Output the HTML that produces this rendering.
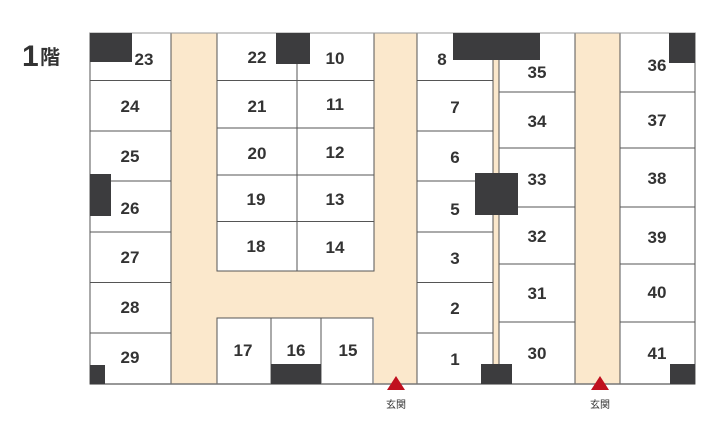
<!DOCTYPE html>
<html><head><meta charset="utf-8"><style>
body{margin:0;background:#fff}
svg text{font-family:"Liberation Sans","Noto Sans CJK JP",sans-serif;font-weight:bold;fill:#333}
</style></head><body>
<svg width="723" height="439" viewBox="0 0 723 439" xmlns="http://www.w3.org/2000/svg">
<rect x="171" y="33" width="46" height="351" fill="#fbe8cc"/>
<rect x="217" y="271" width="157" height="47" fill="#fbe8cc"/>
<rect x="374" y="33" width="44" height="351" fill="#fbe8cc"/>
<rect x="493" y="33" width="6" height="351" fill="#fbe8cc"/>
<rect x="575" y="33" width="45" height="351" fill="#fbe8cc"/>
<g fill="#fff" stroke="#555" stroke-width="1">
<rect x="90" y="33" width="81" height="47.5"/>
<rect x="90" y="80.5" width="81" height="50.5"/>
<rect x="90" y="131" width="81" height="50"/>
<rect x="90" y="181" width="81" height="51"/>
<rect x="90" y="232" width="81" height="50.5"/>
<rect x="90" y="282.5" width="81" height="50.5"/>
<rect x="90" y="333" width="81" height="51"/>
<rect x="217" y="33" width="80" height="47.5"/><rect x="297" y="33" width="77" height="47.5"/>
<rect x="217" y="80.5" width="80" height="47.5"/><rect x="297" y="80.5" width="77" height="47.5"/>
<rect x="217" y="128" width="80" height="47"/><rect x="297" y="128" width="77" height="47"/>
<rect x="217" y="175" width="80" height="46.5"/><rect x="297" y="175" width="77" height="46.5"/>
<rect x="217" y="221.5" width="80" height="49.5"/><rect x="297" y="221.5" width="77" height="49.5"/>
<rect x="217" y="318" width="54" height="66"/><rect x="271" y="318" width="50" height="66"/><rect x="321" y="318" width="52" height="66"/>
<rect x="417" y="33" width="76" height="47.5"/>
<rect x="417" y="80.5" width="76" height="50.5"/>
<rect x="417" y="131" width="76" height="50"/>
<rect x="417" y="181" width="76" height="51"/>
<rect x="417" y="232" width="76" height="50.5"/>
<rect x="417" y="282.5" width="76" height="50.5"/>
<rect x="417" y="333" width="76" height="51"/>
<rect x="499" y="33" width="76" height="59"/>
<rect x="499" y="92" width="76" height="56"/>
<rect x="499" y="148" width="76" height="59"/>
<rect x="499" y="207" width="76" height="57"/>
<rect x="499" y="264" width="76" height="58"/>
<rect x="499" y="322" width="76" height="62"/>
<rect x="620" y="33" width="75" height="59"/>
<rect x="620" y="92" width="75" height="56"/>
<rect x="620" y="148" width="75" height="59"/>
<rect x="620" y="207" width="75" height="57"/>
<rect x="620" y="264" width="75" height="58"/>
<rect x="620" y="322" width="75" height="62"/>
</g>
<line x1="90" y1="384" x2="695" y2="384" stroke="#777" stroke-width="1.5"/>
<line x1="90" y1="33" x2="695" y2="33" stroke="#999" stroke-width="1"/>
<g fill="#3c3c3e">
<rect x="90" y="33" width="42" height="29"/>
<rect x="90" y="174" width="21" height="42"/>
<rect x="90" y="365" width="15" height="19"/>
<rect x="276" y="33" width="34" height="31"/>
<rect x="271" y="364" width="50" height="20"/>
<rect x="453" y="33" width="87" height="27"/>
<rect x="475" y="173" width="43" height="42"/>
<rect x="481" y="364" width="31" height="20"/>
<rect x="669" y="33" width="26" height="30"/>
<rect x="670" y="364" width="25" height="20"/>
</g>
<g font-size="17" text-anchor="middle">
<text x="144" y="65">23</text><text x="130" y="112">24</text><text x="130" y="162">25</text><text x="130" y="214">26</text><text x="130" y="263">27</text><text x="130" y="313">28</text><text x="130" y="363">29</text>
<text x="257" y="63">22</text><text x="335" y="64">10</text>
<text x="257" y="112">21</text><text x="335" y="110">11</text>
<text x="257" y="159">20</text><text x="335" y="158">12</text>
<text x="256" y="205">19</text><text x="335" y="205">13</text>
<text x="256" y="252">18</text><text x="335" y="253">14</text>
<text x="243" y="356">17</text><text x="296" y="356">16</text><text x="348" y="356">15</text>
<text x="442" y="65">8</text><text x="455" y="113">7</text><text x="455" y="163">6</text><text x="455" y="215">5</text><text x="455" y="264">3</text><text x="455" y="314">2</text><text x="455" y="365">1</text>
<text x="537" y="78">35</text><text x="537" y="127">34</text><text x="537" y="185">33</text><text x="537" y="242">32</text><text x="537" y="299">31</text><text x="537" y="359">30</text>
<text x="657" y="71">36</text><text x="657" y="126">37</text><text x="657" y="184">38</text><text x="657" y="243">39</text><text x="657" y="298">40</text><text x="657" y="359">41</text>
</g>
<polygon points="396,376 387,390 405,390" fill="#c0101e"/>
<polygon points="600,376 591,390 609,390" fill="#c0101e"/>
<g font-size="10" font-weight="normal" text-anchor="middle">
<text x="396" y="408" style="font-weight:normal">玄関</text>
<text x="600" y="408" style="font-weight:normal">玄関</text>
</g>
<text x="22" y="66" font-size="30">1</text>
<text x="40" y="64" font-size="20">階</text>
</svg>
</body></html>
